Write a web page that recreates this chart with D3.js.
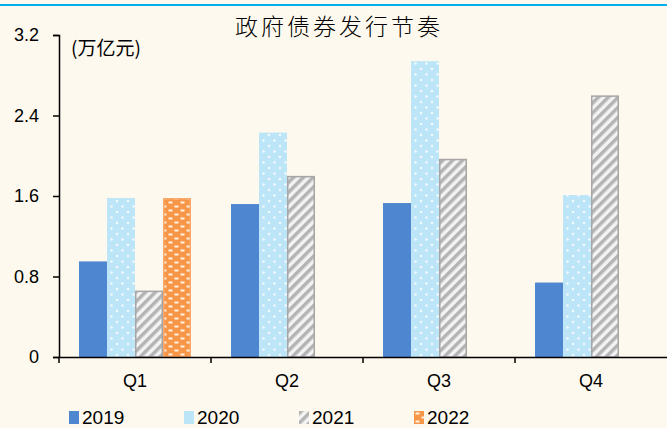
<!DOCTYPE html>
<html>
<head>
<meta charset="utf-8">
<script src="https://cdn.jsdelivr.net/npm/d3@7"></script>
<style>
  html, body { margin: 0; padding: 0; background: #FEF9EE; }
  svg { display: block; }
</style>
</head>
<body>
<svg id="chart" width="667" height="428"></svg>
<script>
// Quarterly government bond issuance, trillion yuan
const quarters = ["Q1", "Q2", "Q3", "Q4"];
const years = ["2019", "2020", "2021", "2022"];
const v2019 = [0.95, 1.52, 1.53, 0.74];
const v2020 = [1.58, 2.23, 2.94, 1.61];
const v2021 = [0.66, 1.80, 1.97, 2.60];
const v2022 = [1.58, null, null, null];
const yTicks = [0, 0.8, 1.6, 2.4, 3.2];

const seriesValues = [v2019, v2020, v2021, v2022];

const svg = d3.select("#chart");
const W = 667, H = 428;
const plot = { left: 59, right: 667, top: 35, bottom: 357 };

svg.append("rect").attr("width", W).attr("height", H).attr("fill", "#FEF9EE");
// top rule
svg.append("rect").attr("x", 0).attr("y", 4).attr("width", W).attr("height", 2).attr("fill", "#00AEEF");

// fill patterns
const defs = svg.append("defs");

const pDots = defs.append("pattern").attr("id", "p2020")
  .attr("patternUnits", "userSpaceOnUse").attr("width", 11).attr("height", 11);
pDots.append("rect").attr("width", 11).attr("height", 11).attr("fill", "#BDE5F8");
pDots.append("circle").attr("cx", 3).attr("cy", 3).attr("r", 1.3).attr("fill", "#F2FAFF");
pDots.append("circle").attr("cx", 8.5).attr("cy", 8.5).attr("r", 1.3).attr("fill", "#F2FAFF");

const pStripe = defs.append("pattern").attr("id", "p2021")
  .attr("patternUnits", "userSpaceOnUse").attr("width", 7).attr("height", 7)
  .attr("patternTransform", "rotate(45)");
pStripe.append("rect").attr("width", 7).attr("height", 7).attr("fill", "#F3F3F3");
pStripe.append("rect").attr("x", 0).attr("width", 3.5).attr("height", 7).attr("fill", "#B4B4B4");

const pBrick = defs.append("pattern").attr("id", "p2022")
  .attr("patternUnits", "userSpaceOnUse").attr("width", 12).attr("height", 8);
pBrick.append("rect").attr("width", 12).attr("height", 8).attr("fill", "#F79646");
pBrick.append("rect").attr("x", 1.5).attr("y", 1.5).attr("width", 4).attr("height", 2).attr("fill", "#FFF3E6");
pBrick.append("rect").attr("x", 7.5).attr("y", 5.5).attr("width", 4).attr("height", 2).attr("fill", "#FFF3E6");

const fills = ["#4F86D0", "url(#p2020)", "url(#p2021)", "url(#p2022)"];
const strokes = ["none", "none", "#A6A6A6", "#F9A86A"];
const legendFills = ["#4F86D0", "#BDE5F8", "url(#p2021)", "url(#p2022)"];

// scales
const x0 = d3.scaleBand().domain(quarters).range([plot.left, plot.right]).paddingInner(0).paddingOuter(0);
const x1 = d3.scaleBand().domain(years).range([20, x0.bandwidth() - 20]).padding(0);
const y = d3.scaleLinear().domain([0, 3.2]).range([plot.bottom, plot.top]);

// bars
const groups = svg.append("g").selectAll("g").data(quarters).join("g")
  .attr("transform", d => `translate(${x0(d)},0)`);

groups.each(function(q, qi) {
  const g = d3.select(this);
  years.forEach((yr, si) => {
    const v = seriesValues[si][qi];
    if (v == null) return;
    const sw = strokes[si] === "none" ? 0 : 1.5;
    g.append("rect")
      .attr("x", x1(yr) + sw / 2)
      .attr("y", y(v) + sw / 2)
      .attr("width", x1.bandwidth() - sw)
      .attr("height", y(0) - y(v) - sw / 2)
      .attr("fill", fills[si])
      .attr("stroke", strokes[si])
      .attr("stroke-width", sw);
  });
});

// y axis
const yAxis = d3.axisLeft(y).tickValues(yTicks).tickSize(6).tickPadding(14)
  .tickFormat(d => d === 0 ? "0" : d3.format(".1f")(d));
const yg = svg.append("g").attr("transform", `translate(${plot.left},0)`).call(yAxis);
yg.select(".domain").attr("stroke", "#000").attr("stroke-width", 1.5);
yg.selectAll(".tick line").attr("stroke", "#000").attr("stroke-width", 1.5);
yg.selectAll(".tick text").attr("font-family", "Liberation Sans, Arial, sans-serif")
  .attr("font-size", 18).attr("fill", "#000");

// x axis
const xAxis = d3.axisBottom(x0).tickSize(0).tickPadding(17);
const xg = svg.append("g").attr("transform", `translate(0,${plot.bottom})`).call(xAxis);
xg.select(".domain").attr("stroke", "#000").attr("stroke-width", 1.5);
xg.selectAll(".tick text").attr("font-family", "Liberation Sans, Arial, sans-serif")
  .attr("font-size", 18).attr("fill", "#000").attr("dy", "0.71em");
// category separators
xg.selectAll(".sep").data(quarters).join("line").attr("class", "sep")
  .attr("x1", d => x0(d)).attr("x2", d => x0(d))
  .attr("y1", 0).attr("y2", 6).attr("stroke", "#000").attr("stroke-width", 1.5);

// title
svg.append("text").attr("x", 339).attr("y", 35).attr("text-anchor", "middle")
  .attr("font-family", "Noto Sans CJK SC, sans-serif").attr("font-weight", 300)
  .attr("font-size", 23).attr("letter-spacing", 3).attr("fill", "#000")
  .text("政府债券发行节奏");

// unit
svg.append("text").attr("x", 71).attr("y", 55)
  .attr("font-family", "Noto Sans CJK SC, sans-serif").attr("font-size", 19).attr("fill", "#000")
  .text("(万亿元)");

// legend
const legendX = [69, 184, 299, 414];
const lg = svg.append("g").selectAll("g").data(years).join("g")
  .attr("transform", (d, i) => `translate(${legendX[i]},411)`);
lg.append("rect").attr("width", 10).attr("height", 13).attr("y", 0)
  .attr("fill", (d, i) => legendFills[i]);
lg.append("text").attr("x", 13).attr("y", 13)
  .attr("font-family", "Liberation Sans, Arial, sans-serif").attr("font-size", 19).attr("fill", "#000")
  .text(d => d);
</script>
</body>
</html>
